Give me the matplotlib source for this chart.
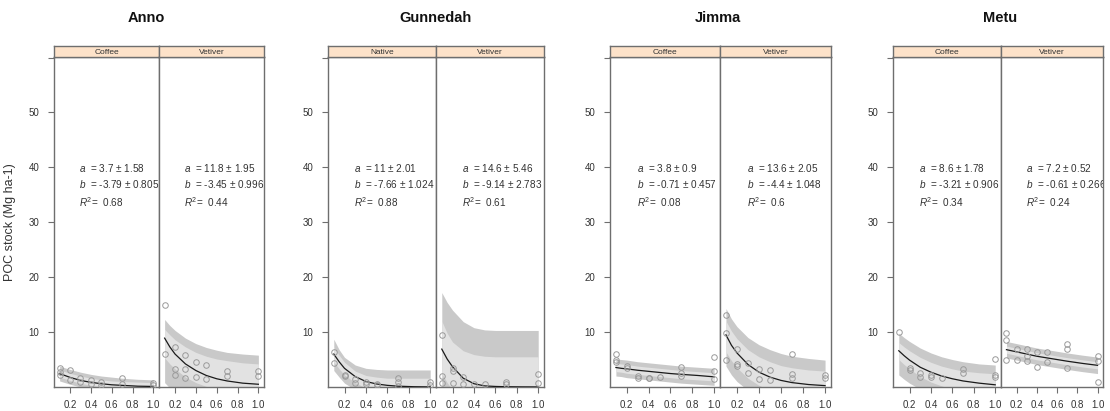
import matplotlib
matplotlib.use("Agg")
import matplotlib.pyplot as plt

plt.rcParams['font.family'] = ['Liberation Sans', 'DejaVu Sans']
plt.rcParams['mathtext.fontset'] = 'custom'
plt.rcParams['mathtext.rm'] = 'Liberation Sans'
plt.rcParams['mathtext.it'] = 'Liberation Sans:italic'

# ---------------- data ----------------
sites = ["Anno", "Gunnedah", "Jimma", "Metu"]
panel_names = [["Coffee", "Vetiver"], ["Native", "Vetiver"], ["Coffee", "Vetiver"], ["Coffee", "Vetiver"]]
y_label = "POC stock (Mg ha-1)"
x_ticks = [0.2, 0.4, 0.6, 0.8, 1.0]
x_tick_labels = ["0.2", "0.4", "0.6", "0.8", "1.0"]
y_ticks = [10, 20, 30, 40, 50, 60]
y_tick_labels = ["10", "20", "30", "40", "50", ""]

a_texts = ["3.7 ± 1.58", "11.8 ± 1.95", "11 ± 2.01", "14.6 ± 5.46",
           "3.8 ± 0.9", "13.6 ± 2.05", "8.6 ± 1.78", "7.2 ± 0.52"]
b_texts = ["-3.79 ± 0.805", "-3.45 ± 0.996", "-7.66 ± 1.024", "-9.14 ± 2.783",
           "-0.71 ± 0.457", "-4.4 ± 1.048", "-3.21 ± 0.906", "-0.61 ± 0.266"]
r2_texts = ["0.68", "0.44", "0.88", "0.61", "0.08", "0.6", "0.34", "0.24"]

x_grid = [0.1, 0.15, 0.2, 0.3, 0.4, 0.5, 0.6, 0.7, 0.85, 1.0]

# Anno - Coffee
anno_coffee_x = [0.1, 0.1, 0.1, 0.2, 0.2, 0.3, 0.3, 0.4, 0.4, 0.5, 0.5, 0.7, 0.7, 1.0, 1.0]
anno_coffee_y = [3.4, 2.7, 2.2, 3.1, 1.3, 1.6, 1.0, 1.2, 0.6, 0.9, 0.4, 1.6, 0.5, 0.8, 0.3]
anno_coffee_fit = [2.4, 2.1, 1.75, 1.2, 0.85, 0.6, 0.4, 0.3, 0.15, 0.1]
anno_coffee_pi_hi = [3.8, 3.5, 3.2, 2.7, 2.3, 2.0, 1.8, 1.6, 1.4, 1.3]
anno_coffee_ci_hi = [3.1, 2.8, 2.5, 2.0, 1.6, 1.3, 1.1, 1.0, 0.9, 0.8]
anno_coffee_ci_lo = [1.8, 1.5, 1.2, 0.7, 0.3, 0.0, -0.2, -0.4, -0.6, -0.7]
anno_coffee_pi_lo = [1.1, 0.8, 0.5, 0.0, -0.4, -0.7, -0.9, -1.0, -1.0, -1.0]

# Anno - Vetiver
anno_vetiver_x = [0.1, 0.1, 0.2, 0.2, 0.2, 0.3, 0.3, 0.3, 0.4, 0.4, 0.5, 0.5, 0.7, 0.7, 1.0, 1.0]
anno_vetiver_y = [14.9, 6.1, 7.2, 3.2, 2.1, 5.8, 3.3, 1.6, 4.6, 1.8, 4.0, 1.4, 2.9, 2.0, 3.0, 2.0]
anno_vetiver_fit = [8.9, 7.3, 6.0, 4.2, 3.0, 2.1, 1.5, 1.1, 0.7, 0.5]
anno_vetiver_pi_hi = [12.3, 11.2, 10.3, 8.9, 7.9, 7.2, 6.7, 6.3, 6.0, 5.8]
anno_vetiver_ci_hi = [10.5, 9.5, 8.6, 7.3, 6.3, 5.6, 5.1, 4.8, 4.4, 4.2]
anno_vetiver_ci_lo = [5.3, 4.2, 3.3, 1.8, 0.8, 0.1, -0.5, -1.0, -1.0, -1.0]
anno_vetiver_pi_lo = [0.8, -0.2, -1.0, -1.0, -1.0, -1.0, -1.0, -1.0, -1.0, -1.0]

# Gunnedah - Native
gun_native_x = [0.1, 0.1, 0.2, 0.2, 0.3, 0.3, 0.4, 0.4, 0.5, 0.5, 0.7, 0.7, 0.7, 1.0, 1.0]
gun_native_y = [6.3, 4.4, 2.2, 2.0, 1.5, 0.8, 1.0, 0.6, 0.6, 0.3, 1.6, 1.0, 0.2, 0.9, 0.3]
gun_native_fit = [6.0, 4.6, 3.4, 1.9, 1.0, 0.55, 0.3, 0.15, 0.05, 0.02]
gun_native_pi_hi = [8.7, 6.8, 5.4, 4.0, 3.4, 3.2, 3.1, 3.1, 3.1, 3.1]
gun_native_ci_hi = [7.3, 5.8, 4.5, 2.9, 2.1, 1.8, 1.6, 1.6, 1.6, 1.6]
gun_native_ci_lo = [4.6, 3.3, 2.2, 0.8, -0.2, -1.0, -1.0, -1.0, -1.0, -1.0]
gun_native_pi_lo = [3.0, 1.8, 0.7, -0.5, -1.0, -1.0, -1.0, -1.0, -1.0, -1.0]

# Gunnedah - Vetiver
gun_vetiver_x = [0.1, 0.1, 0.1, 0.2, 0.2, 0.2, 0.3, 0.3, 0.4, 0.5, 0.7, 0.7, 1.0, 1.0]
gun_vetiver_y = [9.5, 2.0, 0.8, 3.4, 3.0, 0.8, 1.8, 0.6, 0.6, 0.6, 0.9, 0.5, 2.4, 0.7]
gun_vetiver_fit = [6.9, 5.1, 3.7, 1.6, 0.6, 0.2, 0.1, 0.05, 0.02, 0.01]
gun_vetiver_pi_hi = [17.2, 15.4, 14.0, 11.9, 10.8, 10.4, 10.3, 10.3, 10.3, 10.3]
gun_vetiver_ci_hi = [12.0, 9.8, 8.2, 6.6, 5.9, 5.6, 5.5, 5.5, 5.5, 5.5]
gun_vetiver_ci_lo = [2.5, 0.8, -0.5, -1.0, -1.0, -1.0, -1.0, -1.0, -1.0, -1.0]
gun_vetiver_pi_lo = [-1.0, -1.0, -1.0, -1.0, -1.0, -1.0, -1.0, -1.0, -1.0, -1.0]

# Jimma - Coffee
jim_coffee_x = [0.1, 0.1, 0.1, 0.2, 0.2, 0.3, 0.3, 0.4, 0.4, 0.5, 0.7, 0.7, 0.7, 1.0, 1.0, 1.0]
jim_coffee_y = [6.1, 4.9, 4.6, 3.9, 3.5, 2.0, 1.6, 1.6, 1.7, 1.8, 3.7, 2.5, 2.0, 5.5, 3.0, 1.5]
jim_coffee_fit = [3.55, 3.4, 3.3, 3.05, 2.85, 2.65, 2.45, 2.3, 2.1, 1.85]
jim_coffee_pi_hi = [5.1, 5.0, 4.9, 4.6, 4.4, 4.2, 4.0, 3.8, 3.6, 3.4]
jim_coffee_ci_hi = [4.3, 4.2, 4.1, 3.8, 3.6, 3.4, 3.2, 3.0, 2.8, 2.6]
jim_coffee_ci_lo = [2.8, 2.7, 2.5, 2.3, 2.1, 1.9, 1.7, 1.5, 1.3, 1.1]
jim_coffee_pi_lo = [2.0, 1.9, 1.7, 1.5, 1.3, 1.1, 0.9, 0.7, 0.5, 0.3]

# Jimma - Vetiver
jim_vetiver_x = [0.1, 0.1, 0.1, 0.2, 0.2, 0.2, 0.3, 0.3, 0.4, 0.4, 0.5, 0.5, 0.7, 0.7, 0.7, 1.0, 1.0]
jim_vetiver_y = [13.1, 9.9, 5.0, 6.9, 4.2, 3.8, 4.4, 2.5, 3.3, 1.5, 3.1, 1.2, 6.0, 2.4, 1.7, 2.2, 1.6]
jim_vetiver_fit = [9.5, 7.6, 6.2, 4.1, 2.7, 1.8, 1.2, 0.8, 0.45, 0.25]
jim_vetiver_pi_hi = [14.3, 12.4, 11.0, 9.0, 7.7, 6.8, 6.1, 5.6, 5.2, 4.9]
jim_vetiver_ci_hi = [12.0, 10.2, 8.8, 6.8, 5.5, 4.6, 3.9, 3.5, 3.1, 2.9]
jim_vetiver_ci_lo = [6.4, 4.8, 3.5, 1.6, 0.3, -0.6, -1.0, -1.0, -1.0, -1.0]
jim_vetiver_pi_lo = [3.8, 2.2, 1.0, -0.6, -1.0, -1.0, -1.0, -1.0, -1.0, -1.0]

# Metu - Coffee
metu_coffee_x = [0.1, 0.2, 0.2, 0.3, 0.3, 0.4, 0.4, 0.5, 0.7, 0.7, 1.0, 1.0, 1.0]
metu_coffee_y = [10.1, 3.4, 3.1, 2.6, 1.8, 2.1, 1.9, 1.6, 3.2, 2.5, 5.1, 2.1, 1.8]
metu_coffee_fit = [6.6, 5.7, 4.9, 3.6, 2.7, 2.0, 1.5, 1.1, 0.7, 0.4]
metu_coffee_pi_hi = [9.8, 9.0, 8.3, 7.1, 6.2, 5.5, 5.0, 4.6, 4.2, 4.0]
metu_coffee_ci_hi = [8.1, 7.3, 6.6, 5.4, 4.5, 3.8, 3.3, 2.9, 2.6, 2.4]
metu_coffee_ci_lo = [5.0, 4.1, 3.3, 1.9, 0.9, 0.2, -0.4, -1.0, -1.0, -1.0]
metu_coffee_pi_lo = [2.2, 1.4, 0.7, -0.4, -1.0, -1.0, -1.0, -1.0, -1.0, -1.0]

# Metu - Vetiver
metu_vetiver_x = [0.1, 0.1, 0.1, 0.2, 0.2, 0.3, 0.3, 0.3, 0.4, 0.4, 0.5, 0.5, 0.7, 0.7, 0.7, 1.0, 1.0, 1.0]
metu_vetiver_y = [9.8, 8.5, 5.0, 6.9, 5.0, 6.9, 5.6, 4.8, 3.7, 6.4, 6.4, 4.5, 7.8, 6.9, 3.4, 5.6, 4.8, 1.0]
metu_vetiver_fit = [6.8, 6.6, 6.4, 6.0, 5.6, 5.3, 5.0, 4.7, 4.3, 3.95]
metu_vetiver_pi_hi = [8.3, 8.1, 7.9, 7.5, 7.1, 6.8, 6.5, 6.2, 5.8, 5.45]
metu_vetiver_ci_hi = [7.45, 7.25, 7.05, 6.65, 6.25, 5.95, 5.65, 5.35, 4.95, 4.6]
metu_vetiver_ci_lo = [6.15, 5.95, 5.75, 5.35, 4.95, 4.65, 4.35, 4.05, 3.65, 3.3]
metu_vetiver_pi_lo = [5.3, 5.1, 4.9, 4.5, 4.1, 3.8, 3.5, 3.2, 2.8, 2.45]

panels = [
    (anno_coffee_x, anno_coffee_y, anno_coffee_fit, anno_coffee_pi_lo, anno_coffee_pi_hi, anno_coffee_ci_lo, anno_coffee_ci_hi),
    (anno_vetiver_x, anno_vetiver_y, anno_vetiver_fit, anno_vetiver_pi_lo, anno_vetiver_pi_hi, anno_vetiver_ci_lo, anno_vetiver_ci_hi),
    (gun_native_x, gun_native_y, gun_native_fit, gun_native_pi_lo, gun_native_pi_hi, gun_native_ci_lo, gun_native_ci_hi),
    (gun_vetiver_x, gun_vetiver_y, gun_vetiver_fit, gun_vetiver_pi_lo, gun_vetiver_pi_hi, gun_vetiver_ci_lo, gun_vetiver_ci_hi),
    (jim_coffee_x, jim_coffee_y, jim_coffee_fit, jim_coffee_pi_lo, jim_coffee_pi_hi, jim_coffee_ci_lo, jim_coffee_ci_hi),
    (jim_vetiver_x, jim_vetiver_y, jim_vetiver_fit, jim_vetiver_pi_lo, jim_vetiver_pi_hi, jim_vetiver_ci_lo, jim_vetiver_ci_hi),
    (metu_coffee_x, metu_coffee_y, metu_coffee_fit, metu_coffee_pi_lo, metu_coffee_pi_hi, metu_coffee_ci_lo, metu_coffee_ci_hi),
    (metu_vetiver_x, metu_vetiver_y, metu_vetiver_fit, metu_vetiver_pi_lo, metu_vetiver_pi_hi, metu_vetiver_ci_lo, metu_vetiver_ci_hi),
]

# ---------------- layout (pixels) ----------------
W, H = 1110, 411
fig = plt.figure(figsize=(W / 100, H / 100), dpi=100)
fig.patch.set_facecolor("white")

group_left = [54, 328, 610, 893]
group_mid = [159, 436, 720, 1001]
group_right = [264, 544, 831, 1103]
title_x = [146, 436, 718, 1000]
plot_top, plot_bot = 57, 387
strip_top = 46

frame_col = "#6e6e6e"
txt_col = "#333333"
PI_COL = "#c9c9c9"
CI_COL = "#e2e2e2"

for g in range(4):
    bounds = [(group_left[g], group_mid[g]), (group_mid[g], group_right[g])]
    for p in range(2):
        idx = g * 2 + p
        x0, x1 = bounds[p]
        ax = fig.add_axes([x0 / W, (H - plot_bot) / H, (x1 - x0) / W, (plot_bot - plot_top) / H])
        px, py, fit, pilo, pihi, cilo, cihi = panels[idx]
        ax.fill_between(x_grid, pilo, pihi, color=PI_COL, lw=0, zorder=1)
        ax.fill_between(x_grid, cilo, cihi, color=CI_COL, lw=0, zorder=2)
        ax.plot(x_grid, fit, color="#1a1a1a", lw=0.9, zorder=3)
        ax.plot(px, py, linestyle="none", marker="o", ms=4.0, mfc="none",
                mec="#9a9a9a", mew=0.7, zorder=4)
        ax.set_xlim(0.046, 1.054)
        ax.set_ylim(0, 60.1)
        for s in ax.spines.values():
            s.set_color(frame_col)
            s.set_linewidth(1.0)
        ax.set_xticks(x_ticks)
        ax.set_xticklabels(x_tick_labels)
        ax.tick_params(axis="x", direction="out", length=4.5, width=0.8, colors=frame_col,
                       labelcolor=txt_col, labelsize=7, pad=5)
        if p == 0:
            ax.set_yticks(y_ticks)
            ax.set_yticklabels(y_tick_labels)
            ax.tick_params(axis="y", direction="out", length=4.5, width=0.8, colors=frame_col,
                           labelcolor=txt_col, labelsize=7, pad=6)
        else:
            ax.set_yticks([])
        # annotations
        fs = 7.2
        ax.text(0.29, 39.9, r"$\it{a}$  = " + a_texts[idx], fontsize=fs, color=txt_col,
                ha="left", va="center", clip_on=True)
        ax.text(0.29, 37.0, r"$\it{b}$  = " + b_texts[idx], fontsize=fs, color=txt_col,
                ha="left", va="center", clip_on=True)
        ax.text(0.29, 33.7, r"$\it{R}^2$=  " + r2_texts[idx], fontsize=fs, color=txt_col,
                ha="left", va="center", clip_on=True)

        # strip
        sax = fig.add_axes([x0 / W, (H - plot_top) / H, (x1 - x0) / W, (plot_top - strip_top) / H])
        sax.set_facecolor("#fde2c9")
        sax.set_xticks([])
        sax.set_yticks([])
        for s in sax.spines.values():
            s.set_color(frame_col)
            s.set_linewidth(1.0)
        sax.text(0.5, 0.45, panel_names[g][p], transform=sax.transAxes, ha="center",
                 va="center", fontsize=6, color=txt_col)

    fig.text(title_x[g] / W, (H - 18) / H, sites[g], ha="center", va="center",
             fontsize=10.5, fontweight="bold", color="#111111")

fig.text(10 / W, (H - 222) / H, y_label, rotation=90, ha="center", va="center",
         fontsize=9, color=txt_col)

fig.savefig("out.png", dpi=100)
